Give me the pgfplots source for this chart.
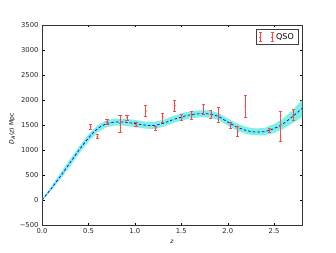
\documentclass[border=0pt]{standalone}
\usepackage{fontspec}
\setmainfont{DejaVu Sans}
\usepackage{pgfplots}
\pgfplotsset{compat=1.18}
\usepgfplotslibrary{fillbetween}
\definecolor{band}{RGB}{125,242,225}
\definecolor{ebar}{RGB}{245,75,75}
\begin{document}
\begin{tikzpicture}
\begin{axis}[
  at={(0pt,0pt)}, anchor=south west,
  scale only axis, width=260pt, height=200pt,
  xmin=0, xmax=2.8, ymin=-500, ymax=3500,
  xtick={0,0.5,1,1.5,2,2.5},
  xticklabels={0.0,0.5,1.0,1.5,2.0,2.5},
  ytick={-500,0,500,1000,1500,2000,2500,3000,3500},
  yticklabels={−500,0,500,1000,1500,2000,2500,3000,3500},
  tick align=inside, major tick length=2.5pt,
  tick style={black, line width=0.4pt},
  axis line style={black!80, line width=0.7pt},
  tick label style={font=\fontsize{6.8}{8}\selectfont, text=black!85},
  xlabel={\textit{z}}, ylabel={\textit{D}\textsubscript{\textit{A}}(\textit{z}) Mpc},
  label style={font=\fontsize{6}{7}\selectfont},
  xlabel style={at={(0.5,-0.085)}, anchor=center},
  ylabel style={at={(-0.115,0.48)}, anchor=center},
  legend style={at={(0.985,0.9785)}, anchor=north east, draw=black!75, line width=0.6pt,
    font=\fontsize{8}{9}\selectfont, inner xsep=2pt, inner ysep=1.5pt},
  legend cell align=left,
]
\addplot[name path=up, draw=none, forget plot] coordinates {
(0,20) (0.1,270) (0.2,540) (0.3,810) (0.4,1070) (0.5,1310) (0.6,1500) (0.7,1600)
(0.8,1630) (0.9,1625) (1.0,1600) (1.1,1570) (1.2,1560) (1.3,1600) (1.4,1670)
(1.5,1730) (1.6,1775) (1.7,1795) (1.8,1790) (1.9,1740) (2.0,1630) (2.1,1530)
(2.2,1460) (2.3,1430) (2.4,1445) (2.5,1520) (2.6,1635) (2.7,1800) (2.8,2000)};
\addplot[name path=lo, draw=none, forget plot] coordinates {
(0,-20) (0.1,190) (0.2,420) (0.3,670) (0.4,930) (0.5,1170) (0.6,1360) (0.7,1460)
(0.8,1490) (0.9,1485) (1.0,1460) (1.1,1430) (1.2,1420) (1.3,1460) (1.4,1530)
(1.5,1590) (1.6,1635) (1.7,1655) (1.8,1650) (1.9,1600) (2.0,1490) (2.1,1390)
(2.2,1320) (2.3,1290) (2.4,1295) (2.5,1340) (2.6,1425) (2.7,1540) (2.8,1660)};
\addplot[band, draw=none, forget plot] fill between[of=up and lo];
\addplot[blue, line width=0.7pt, dash pattern=on 2.6pt off 2pt, smooth, forget plot] coordinates {
(0,0) (0.1,230) (0.2,480) (0.3,740) (0.4,1000) (0.5,1240) (0.6,1430) (0.7,1530)
(0.8,1560) (0.9,1555) (1.0,1530) (1.1,1500) (1.2,1490) (1.3,1530) (1.4,1600)
(1.5,1660) (1.6,1705) (1.7,1725) (1.8,1720) (1.9,1670) (2.0,1560) (2.1,1460)
(2.2,1390) (2.3,1360) (2.4,1370) (2.5,1430) (2.6,1530) (2.7,1670) (2.8,1830)};
\addplot[only marks, mark=x, mark size=0.9pt, ebar, line width=0.6pt,
  legend image code/.code={
  \draw[ebar, line width=0.6pt] (3pt,-4.5pt) -- (3pt,4.5pt) (1.4pt,-4.5pt) -- (4.6pt,-4.5pt) (1.4pt,4.5pt) -- (4.6pt,4.5pt);
  \draw[ebar, line width=0.6pt] (15pt,-4.5pt) -- (15pt,4.5pt) (13.4pt,-4.5pt) -- (16.6pt,-4.5pt) (13.4pt,4.5pt) -- (16.6pt,4.5pt);
  \draw[ebar, line width=0.5pt] (2.2pt,0pt) -- (3.8pt,0pt) (14.2pt,0pt) -- (15.8pt,0pt);
  },
  error bars/.cd, y dir=both, y explicit,
  error bar style={ebar, line width=0.6pt},
  error mark options={rotate=90, mark size=1.6pt, ebar, line width=0.6pt}]
  coordinates {
(0.525,1466) +- (0,50)
(0.596,1270) +- (0,40)
(0.70,1560) +- (0,50)
(0.84,1534) +- (0,170)
(0.916,1654) +- (0,50)
(1.013,1510) +- (0,40)
(1.117,1780) +- (0,110)
(1.225,1440) +- (0,40)
(1.30,1654) +- (0,90)
(1.43,1886) +- (0,110)
(1.505,1646) +- (0,60)
(1.613,1700) +- (0,80)
(1.738,1814) +- (0,100)
(1.818,1714) +- (0,80)
(1.90,1700) +- (0,150)
(2.03,1486) +- (0,60)
(2.108,1366) +- (0,100)
(2.19,1880) +- (0,220)
(2.45,1400) +- (0,40)
(2.565,1466) +- (0,300)
(2.708,1700) +- (0,110)
};
\addlegendentry{QSO}
\end{axis}
\pgfresetboundingbox
\path[use as bounding box] (-42pt,-27pt) rectangle (294pt,225pt);
\end{tikzpicture}
\end{document}
